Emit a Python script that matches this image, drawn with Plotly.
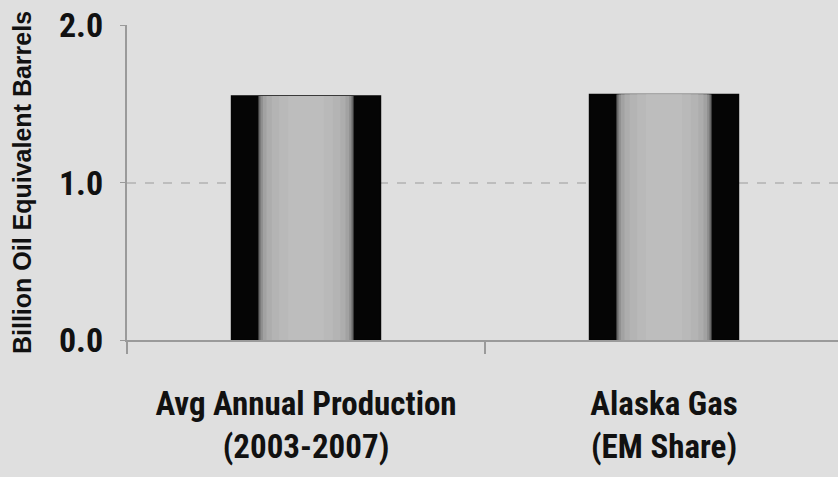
import plotly.graph_objects as go

# Chart data
categories = ["Avg Annual Production<br>(2003-2007)", "Alaska Gas<br>(EM Share)"]
values = [1.55, 1.56]
y_ticks = [0.0, 1.0, 2.0]
y_tick_labels = ["0.0", "1.0", "2.0"]

BG = "#dfdfdf"
BAR_W = 0.416

# Cylinder shading: stacked overlays of the same bars, darkest/widest first
shades = [
    ("#050505", 1.00),
    ("#3a3a3a", 0.645),
    ("#6e6e6e", 0.63),
    ("#8e8e8e", 0.61),
    ("#a2a2a2", 0.58),
    ("#adadad", 0.53),
    ("#b4b4b4", 0.46),
    ("#b9b9b9", 0.36),
    ("#bdbdbd", 0.24),
]

fig = go.Figure()
for i, (color, frac) in enumerate(shades):
    fig.add_trace(go.Bar(
        x=categories,
        y=values,
        width=BAR_W * frac,
        marker=dict(color=color,
                    line=dict(color="#050505", width=1.5 if i == 0 else 0)),
        showlegend=False,
        hoverinfo="skip" if i else "y",
    ))

narrow = "Roboto Condensed, Roboto, sans-serif"

fig.update_layout(
    width=838,
    height=477,
    margin=dict(l=127, r=0, t=25, b=137, autoexpand=False),
    paper_bgcolor=BG,
    plot_bgcolor=BG,
    barmode="overlay",
    xaxis=dict(
        type="category",
        range=[-0.5, 1.486],
        automargin=False,
        tickangle=0,
        showline=True,
        linecolor="#9a9a9a",
        linewidth=2,
        ticks="outside",
        tickson="boundaries",
        ticklen=12,
        tickcolor="#9a9a9a",
        tickwidth=2,
        showgrid=False,
        tickfont=dict(family=narrow, size=33, color="#111111", weight="bold"),
        ticklabelstandoff=33,
    ),
    yaxis=dict(
        range=[0, 2.002],
        automargin=False,
        tickvals=y_ticks,
        ticktext=y_tick_labels,
        showline=True,
        linecolor="#9a9a9a",
        linewidth=2,
        ticks="outside",
        ticklen=5,
        tickcolor="#9a9a9a",
        showgrid=True,
        gridcolor="#bdbdbd",
        griddash="dash",
        gridwidth=1.5,
        zeroline=False,
        tickfont=dict(family=narrow, size=34, color="#111111", weight="bold"),
        ticklabelstandoff=10,
        title=dict(
            text="Billion Oil Equivalent Barrels",
            font=dict(family="Liberation Sans, Arial, sans-serif", size=25, color="#111111",
                      weight="bold"),
            standoff=20,
        ),
    ),
)

fig.write_html("out.html")
